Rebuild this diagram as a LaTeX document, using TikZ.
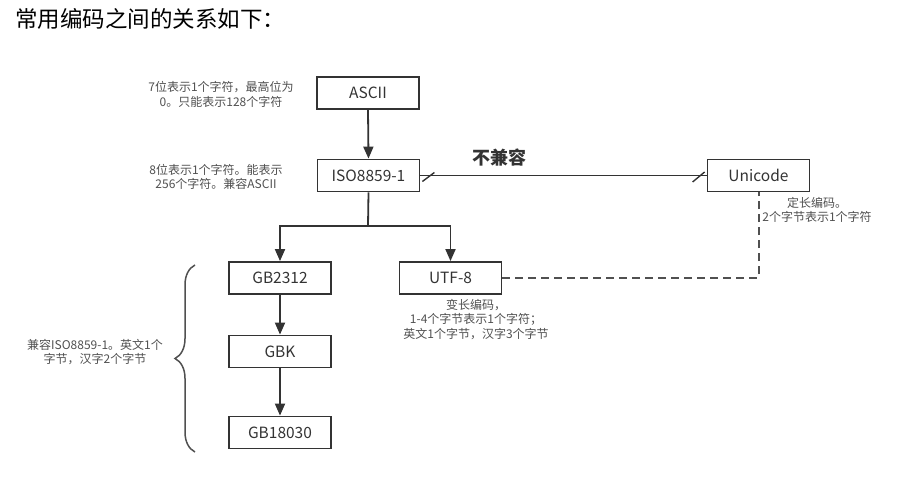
\documentclass[tikz,border=0pt]{standalone}
\usepackage{fontspec}
\setmainfont{Noto Sans CJK SC}
\usetikzlibrary{arrows.meta,decorations.pathreplacing}
\definecolor{linec}{HTML}{333333}
\definecolor{notec}{HTML}{505050}
\tikzset{
  box/.style={draw=linec, line width=1.8pt, minimum width=102pt, minimum height=32pt, inner sep=0pt, font=\fontsize{15.5}{18}\selectfont, text=linec},
  note/.style={align=center, text=notec, font=\fontsize{12}{14.5}\selectfont, inner sep=0pt},
  conn/.style={draw=linec, line width=1.8pt},
  arr/.style={conn, -{Triangle[length=12pt,width=10pt]}},
  dconn/.style={draw=notec, line width=2pt, dash pattern=on 8pt off 5pt},
}
\begin{document}
\begin{tikzpicture}[x=1pt,y=-1pt]
\useasboundingbox (0,0) rectangle (903,478);
\node[anchor=west, font=\fontsize{22.5}{26}\selectfont, inner sep=0pt] (title) at (15,19) {常用编码之间的关系如下：};

\node[box] (ascii) at (368,93) {ASCII};
\node[box] (iso) at (368.5,175.5) {ISO8859-1};
\node[box] (uni) at (758.5,175.5) {Unicode};
\node[box] (gb2312) at (280,278) {GB2312};
\node[box] (utf8) at (450.5,278) {UTF-8};
\node[box] (gbk) at (280,351.5) {GBK};
\node[box] (gb18030) at (280,432.5) {GB18030};

\coordinate (split) at (368,226);
\draw[arr] (ascii.south) -- (iso.north);
\draw[conn] (iso.south) -- (split);
\draw[arr] (split) -| (gb2312.north);
\draw[arr] (split) -| (utf8.north);
\draw[arr] (gb2312.south) -- (gbk.north);
\draw[arr] (gbk.south) -- (gb18030.north);
\draw[conn] (iso.east) -- (uni.west);
\draw[conn, line width=1.4pt] ([shift={(2,6)}]iso.east) -- ++(12,-9);
\draw[conn, line width=1.4pt] ([shift={(-14,6.5)}]uni.west) -- ++(12,-10);
\draw[dconn] (utf8.east) -| (uni.south);

\node[font=\bfseries\fontsize{18}{21}\selectfont, text=linec] (incomp) at (499,158) {不兼容};

\node[note] (n1) at (221,94.5) {7位表示1个字符，最高位为\\0。只能表示128个字符};
\node[note] (n2) at (216,177) {8位表示1个字符。能表示\\256个字符。兼容ASCII};
\node[note] (n3) at (817,210) {定长编码。\\2个字节表示1个字符};
\node[note] (n4) at (476,319.5) {变长编码，\\1-4个字节表示1个字符；\\英文1个字节，汉字3个字节};
\node[note] (n5) at (95,352) {兼容ISO8859-1。英文1个\\字节，汉字2个字节};

\draw[draw=notec, line width=1.5pt, decorate, decoration={brace, amplitude=20pt}] (195,452) -- (195,265);
\end{tikzpicture}
\end{document}
